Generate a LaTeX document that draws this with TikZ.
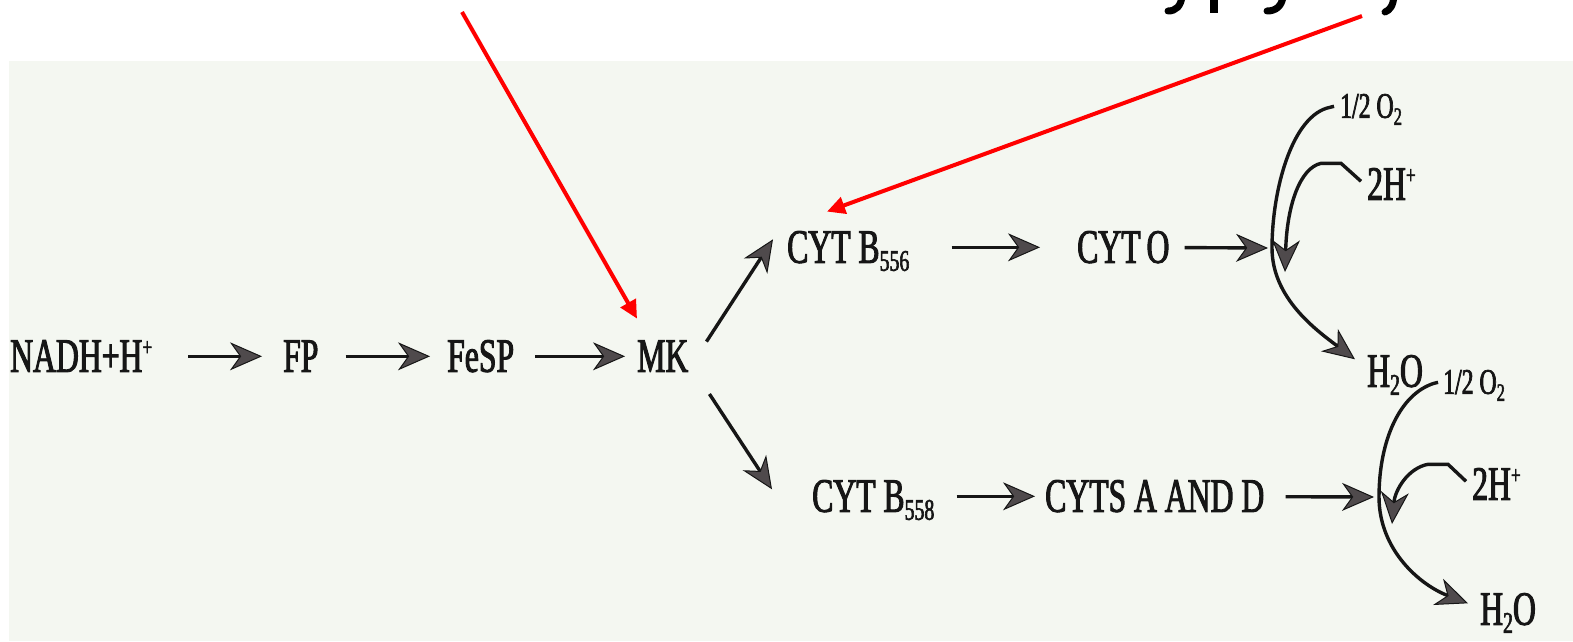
\documentclass[tikz,border=0pt]{standalone}
\usepackage{fontspec}
\setmainfont{Liberation Serif}
\newfontfamily\labelfont[FakeStretch=0.66, BoldFont={Liberation Serif}, BoldFeatures={FakeBold=2}]{Liberation Serif}
\usetikzlibrary{arrows.meta}

\definecolor{paper}{HTML}{F4F7F1}
\definecolor{ink}{HTML}{161616}
\definecolor{tipfill}{HTML}{4F4A4C}

% subscripts and superscripts for the chemical labels
\newcommand{\sbs}[1]{\raisebox{-8pt}{\fontsize{30}{30}\selectfont #1}}
\newcommand{\sps}[1]{\raisebox{16pt}{\fontsize{26}{26}\selectfont #1}}
\newcommand{\ssbs}[1]{\raisebox{-7pt}{\fontsize{25}{25}\selectfont #1}}

\begin{document}
\begin{tikzpicture}[x=1pt,y=-1pt,
  lbl/.style={inner sep=0pt, anchor=south west, text height=31pt, text depth=0pt,
              font=\labelfont\bfseries\fontsize{48}{48}\selectfont, text=ink},
  smlbl/.style={inner sep=0pt, anchor=south west, text height=23pt, text depth=0pt,
              font=\labelfont\bfseries\fontsize{36}{36}\selectfont, text=ink},
  flow/.style={draw=ink, line width=3.4pt,
               -{Stealth[length=32pt,width=28pt,inset=10pt,fill=tipfill,line width=1pt]}},
  pointer/.style={draw=red, line width=4pt, -{Triangle[length=18pt,width=17pt]}},
  glyph/.style={draw=black, line width=7pt, line cap=round}
]
\useasboundingbox (0,0) rectangle (1573,641);
\fill[white] (0,0) rectangle (1573,641);
\fill[paper] (9,61) rectangle (1573,641);

% heading descenders cut off at the top edge
\draw[glyph] (1182,-4) .. controls (1181,6) and (1176,11) .. (1168,11);
\fill[black] (1210,-2) rectangle (1218,13);
\draw[glyph] (1283,-4) .. controls (1282,6) and (1276,11) .. (1267,11);
\draw[glyph] (1394,-4) .. controls (1393,6) and (1390,10) .. (1385,12);

% main chain
\node[lbl] (nadh) at (10,372) {NADH+H\sps{+}};
\node[lbl] (fp)   at (283,372) {FP};
\node[lbl] (fesp) at (447,372) {FeSP};
\node[lbl] (mk)   at (637,372) {MK};

% upper branch
\node[lbl] (b556) at (787,263) {CYT B\sbs{556}};
\node[lbl] (cyto) at (1077,263) {CYT\hspace{6pt}O};
\coordinate (jt) at (1272,248);

% lower branch
\node[lbl] (b558) at (812,512) {CYT B\sbs{558}};
\node[lbl] (cytad) at (1045,512) {CYTS A AND D};
\coordinate (jb) at (1379,497);

% oxygen reduction, upper
\node[smlbl] (oh1) at (1340,118) {1/2 O\ssbs{2}};
\node[lbl]   (hp1) at (1367,200) {2H\sps{+}};
\node[lbl]   (w1)  at (1367,387) {H\sbs{2}O};
\coordinate (it1) at (1285,272);

% oxygen reduction, lower
\node[smlbl] (oh2) at (1443,394) {1/2 O\ssbs{2}};
\node[lbl]   (hp2) at (1472,500) {2H\sps{+}};
\node[lbl]   (w2)  at (1480,625) {H\sbs{2}O};
\coordinate (it2) at (1392,524);

% straight connectors
\draw[flow, shorten <=36pt, shorten >=21pt] (nadh) -- (fp);
\draw[flow, shorten <=27pt, shorten >=17pt] (fp) -- (fesp);
\draw[flow, shorten <=21pt, shorten >=12pt] (fesp) -- (mk);
\draw[flow] ([shift={(18,1)}]mk.north east) -- ([shift={(-14,-8)}]b556.west);
\draw[flow] ([shift={(21,22)}]mk.south east) -- ([shift={(-40,-7)}]b558.west);
\draw[flow, shorten <=42pt, shorten >=37pt] (b556) -- (cyto);
\draw[flow, shorten <=15pt, shorten >=4pt] (cyto) -- (jt);
\draw[flow, shorten <=22pt, shorten >=10pt] (b558) -- (cytad);
\draw[flow, shorten <=21pt, shorten >=5pt] (cytad) -- (jb);

% curved connectors, upper
\draw[flow] ([shift={(-6,0)}]oh1.west) -- ++(-4,1)
  .. controls (1292,115) and (1272,190) .. (jt)
  .. controls (1272,298) and (1316,330) .. ([shift={(-12,-12)}]w1.west);
\draw[flow] ([shift={(-6,-3)}]hp1.west) -- ++(-20,-18) -- ++(-20,0)
  .. controls (1300,168) and (1287,205) .. (it1);

% curved connectors, lower
\draw[flow] ([shift={(-5,0)}]oh2.west) -- ++(-4,1)
  .. controls (1400,394) and (1379,440) .. (jb)
  .. controls (1379,550) and (1420,585) .. ([shift={(-12,-6)}]w2.west);
\draw[flow] ([shift={(-6,-3)}]hp2.west) -- ++(-18,-17) -- ++(-20,0)
  .. controls (1408,468) and (1395,490) .. (it2);

% red pointers from the heading
\coordinate (rs1) at (462,12);
\coordinate (rs2) at (1362,16);
\draw[pointer] (rs1) -- ([shift={(0,-22)}]mk.north west);
\draw[pointer] (rs2) -- ([shift={(40,-20)}]b556.north west);
\end{tikzpicture}
\end{document}
